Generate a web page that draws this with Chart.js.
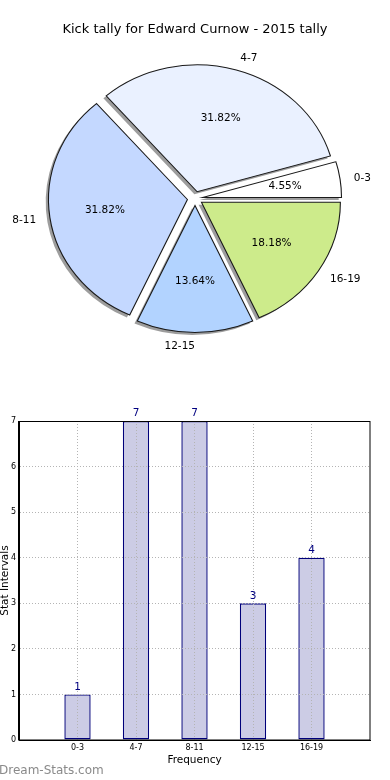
<!DOCTYPE html>
<html>
<head>
<meta charset="utf-8">
<script src="https://cdn.jsdelivr.net/npm/chart.js@4.4.1/dist/chart.umd.min.js"></script>
<style>
  html, body { margin: 0; padding: 0; background: #fff; }
  #wrap { position: relative; width: 390px; height: 780px; overflow: hidden; }
  canvas { display: block; }
  #wm { position: absolute; left: -1px; top: 763px; font: 12px "DejaVu Sans"; color: #8a8a8a; white-space: nowrap; }
</style>
</head>
<body>
<div id="wrap">
  <canvas id="pie" width="390" height="380"></canvas>
  <canvas id="bar" width="390" height="400"></canvas>
  <div id="wm">Dream-Stats.com</div>
</div>
<script>
// ---- data ----
const titleText = 'Kick tally for Edward Curnow - 2015 tally';
const categories = ['0-3', '4-7', '8-11', '12-15', '16-19'];
const counts = [1, 7, 7, 3, 4];
const yTickMin = 0;
const yTickMax = 7;
const xTitle = 'Frequency';
const yTitle = 'Stat Intervals';

// ---- styles ----
const pieColors = ['#ffffff', '#eaf1ff', '#c4d8ff', '#b2d3ff', '#cdeb8b'];
const SX = 1.094;      // horizontal stretch (non-equal aspect pie)
const EXPLODE = 7;     // slice offset
const PIE_R = 127;

Chart.defaults.font.family = '"DejaVu Sans", sans-serif';
Chart.defaults.color = '#000';

const total = counts.reduce((a, b) => a + b, 0);
// matplotlib draws counter-clockwise from 3 o'clock; Chart.js clockwise -> reverse order
const pieLabels = categories.slice().reverse();
const pieValues = counts.slice().reverse();
const pieBg = pieColors.slice().reverse();

const piePlugin = {
  id: 'piefx',
  beforeDatasetsDraw(chart) {
    const ctx = chart.ctx;
    const meta = chart.getDatasetMeta(0);
    meta.data.forEach(arc => {
      if (!arc._wrapped) {
        const orig = arc.draw;
        arc.draw = function (c, area) {
          const h = (this.startAngle + this.endAngle) / 2;
          c.save();
          c.translate(this.x, this.y); c.scale(SX, 1); c.translate(-this.x, -this.y);
          c.translate(Math.cos(h) * EXPLODE, Math.sin(h) * EXPLODE);
          orig.call(this, c, area);
          c.restore();
        };
        arc._wrapped = true;
      }
    });
    // shadows under all wedges
    meta.data.forEach(arc => {
      const h = (arc.startAngle + arc.endAngle) / 2;
      ctx.save();
      ctx.translate(-2.8, 2.5);
      ctx.translate(arc.x, arc.y); ctx.scale(SX, 1); ctx.translate(-arc.x, -arc.y);
      const ox = arc.x + Math.cos(h) * EXPLODE, oy = arc.y + Math.sin(h) * EXPLODE;
      ctx.beginPath();
      ctx.moveTo(ox, oy);
      ctx.arc(ox, oy, arc.outerRadius, arc.startAngle, arc.endAngle);
      ctx.closePath();
      ctx.fillStyle = 'rgba(60,60,60,0.5)';
      ctx.fill();
      ctx.restore();
    });
  },
  afterDatasetsDraw(chart) {
    const ctx = chart.ctx;
    const meta = chart.getDatasetMeta(0);
    ctx.save();
    ctx.font = '10.5px "DejaVu Sans"';
    ctx.fillStyle = '#000';
    ctx.textBaseline = 'middle';
    meta.data.forEach((arc, i) => {
      const h = (arc.startAngle + arc.endAngle) / 2;
      const R = arc.outerRadius;
      const c = Math.cos(h), s = Math.sin(h);
      const r1 = EXPLODE + 1.1 * R;
      ctx.textAlign = c > 1e-6 ? 'left' : 'right';
      ctx.fillText(pieLabels[i], arc.x + SX * r1 * c, arc.y + r1 * s + 1);
      const r2 = EXPLODE + 0.6 * R;
      ctx.textAlign = 'center';
      ctx.fillText((pieValues[i] / total * 100).toFixed(2) + '%', arc.x + SX * r2 * c, arc.y + r2 * s);
    });
    ctx.restore();
  }
};

new Chart(document.getElementById('pie'), {
  type: 'pie',
  data: {
    labels: pieLabels,
    datasets: [{
      data: pieValues,
      backgroundColor: pieBg,
      borderColor: '#1a1a1a',
      borderWidth: 1,
      borderJoinStyle: 'miter',
      offset: 0,
      clip: false
    }]
  },
  options: {
    responsive: false,
    animation: false,
    events: [],
    rotation: 90,
    radius: PIE_R,
    layout: { padding: { top: 0, bottom: 30.8, left: 0, right: 0 } },
    plugins: {
      legend: { display: false },
      tooltip: { enabled: false },
      title: {
        display: true,
        text: titleText,
        color: '#000',
        font: { size: 13, weight: 'normal', lineHeight: 1.2 },
        padding: { top: 22.2, bottom: 10 }
      }
    }
  },
  plugins: [piePlugin]
});

// ---- bar chart ----
const barLabels = [''].concat(categories, ['']);
const barData = [null].concat(counts, [null]);
const lastIdx = barLabels.length - 1;

const barPlugin = {
  id: 'barfx',
  afterDraw(chart) {
    const ctx = chart.ctx;
    const a = chart.chartArea;
    ctx.save();
    ctx.strokeStyle = '#000';
    ctx.lineWidth = 1;
    ctx.strokeRect(Math.round(a.left) - 0.5, Math.round(a.top) + 0.5, Math.round(a.right - a.left) + 0.5, Math.round(a.bottom - a.top) - 0.5);
    const meta = chart.getDatasetMeta(0);
    ctx.font = '10.5px "DejaVu Sans"';
    ctx.fillStyle = '#000080';
    ctx.textAlign = 'center';
    ctx.textBaseline = 'bottom';
    meta.data.forEach((bar, i) => {
      const v = barData[i];
      if (v === null || v === undefined) return;
      ctx.fillText(String(v), bar.x, bar.y - 2);
    });
    ctx.restore();
  }
};

new Chart(document.getElementById('bar'), {
  type: 'bar',
  data: {
    labels: barLabels,
    datasets: [{
      data: barData,
      backgroundColor: '#ccccE5',
      borderColor: '#00007a',
      borderWidth: 1.4,
      borderSkipped: false,
      barPercentage: 0.45,
      categoryPercentage: 1
    }]
  },
  options: {
    responsive: false,
    animation: false,
    events: [],
    layout: { padding: { top: 41, right: 20, bottom: 2, left: 0 } },
    plugins: { legend: { display: false }, tooltip: { enabled: false } },
    scales: {
      x: {
        offset: false,
        grid: {
          offset: false,
          z: 1,
          drawTicks: false,
          color: c => (c.index === 0 || c.index === lastIdx) ? 'rgba(0,0,0,0)' : '#b4b4b4',
          lineWidth: 1
        },
        border: { display: true, color: '#000', width: 1, dash: [1, 2], z: 1 },
        ticks: { color: '#000', font: { size: 8 }, padding: 3, maxRotation: 0, autoSkip: false },
        title: { display: true, text: xTitle, color: '#000', font: { size: 10.5, lineHeight: 1 }, padding: { top: 0, bottom: 12.75 } },
        afterFit(s) { s.height = 38; }
      },
      y: {
        min: yTickMin,
        max: yTickMax,
        grid: {
          z: 1,
          drawTicks: false,
          color: c => (c.tick && (c.tick.value === yTickMin || c.tick.value === yTickMax)) ? 'rgba(0,0,0,0)' : '#b4b4b4',
          lineWidth: 1
        },
        border: { display: true, color: '#000', width: 1, dash: [1, 2], z: 1 },
        ticks: { stepSize: 1, color: '#000', font: { size: 8 }, padding: 3 },
        title: { display: true, text: yTitle, color: '#000', font: { size: 10.5, lineHeight: 1 }, padding: { top: 0, bottom: 0 } },
        afterFit(s) { s.width = 19; }
      }
    }
  },
  plugins: [barPlugin]
});
</script>
</body>
</html>
